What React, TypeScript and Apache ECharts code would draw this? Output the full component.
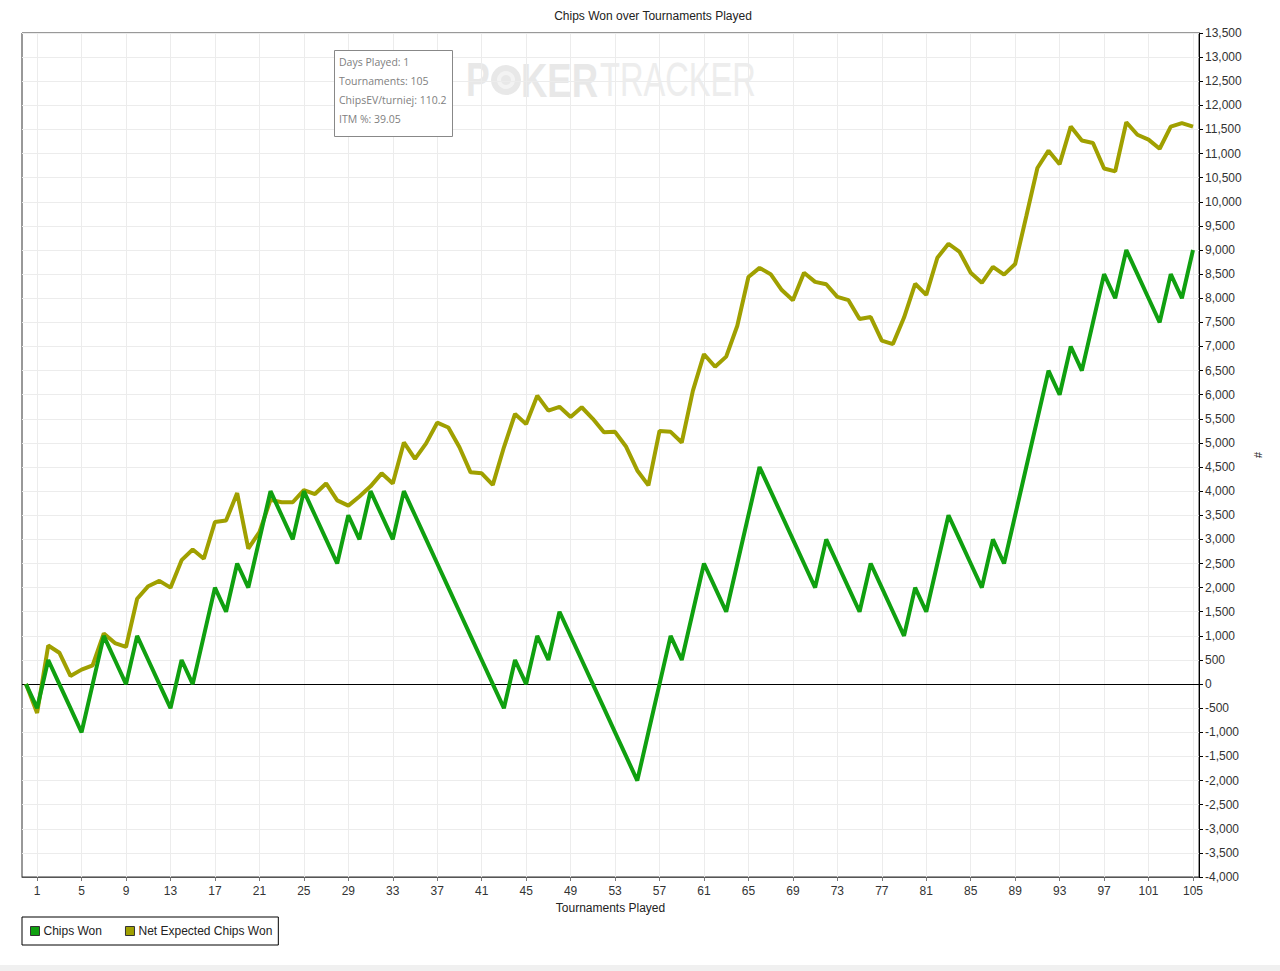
import React, { useEffect, useRef } from "react";
import * as echarts from "echarts";

// Tournament index 0..105
const TOURNAMENTS: number[] = Array.from({ length: 106 }, (_, i) => i);

const CHIPS_WON: number[] = [
  0, -500, 500, 0, -500, -1000, 0, 1000, 500, 0,
  1000, 500, 0, -500, 500, 0, 1000, 2000, 1500, 2500,
  2000, 3000, 4000, 3500, 3000, 4000, 3500, 3000, 2500, 3500,
  3000, 4000, 3500, 3000, 4000, 3500, 3000, 2500, 2000, 1500,
  1000, 500, 0, -500, 500, 0, 1000, 500, 1500, 1000,
  500, 0, -500, -1000, -1500, -2000, -1000, 0, 1000, 500,
  1500, 2500, 2000, 1500, 2500, 3500, 4500, 4000, 3500, 3000,
  2500, 2000, 3000, 2500, 2000, 1500, 2500, 2000, 1500, 1000,
  2000, 1500, 2500, 3500, 3000, 2500, 2000, 3000, 2500, 3500,
  4500, 5500, 6500, 6000, 7000, 6500, 7500, 8500, 8000, 9000,
  8500, 8000, 7500, 8500, 8000, 9000,
];

const NET_EXPECTED: number[] = [
  0, -600, 800, 650, 170, 300, 390, 1050, 850, 770,
  1770, 2030, 2140, 2000, 2570, 2790, 2600, 3360, 3390, 3960,
  2810, 3150, 3820, 3770, 3770, 4020, 3940, 4160, 3810, 3700,
  3890, 4100, 4370, 4160, 5010, 4670, 4990, 5420, 5320, 4910,
  4390, 4370, 4130, 4910, 5600, 5390, 5980, 5670, 5750, 5540,
  5740, 5500, 5220, 5230, 4920, 4430, 4120, 5250, 5230, 5010,
  6080, 6840, 6580, 6790, 7430, 8440, 8630, 8500, 8170, 7960,
  8530, 8340, 8290, 8030, 7960, 7570, 7610, 7120, 7050, 7600,
  8300, 8070, 8840, 9130, 8960, 8530, 8320, 8650, 8490, 8710,
  9700, 10700, 11060, 10780, 11560, 11270, 11220, 10690, 10630, 11650,
  11390, 11290, 11100, 11560, 11630, 11560,
];

const X_TICKS: number[] = [
  1, 5, 9, 13, 17, 21, 25, 29, 33, 37, 41, 45, 49, 53, 57, 61, 65, 69, 73, 77, 81, 85, 89, 93, 97, 101, 105,
];

const INFO_LINES: string[] = [
  "Days Played: 1",
  "Tournaments: 105",
  "ChipsEV/turniej: 110.2",
  "ITM %: 39.05",
];

const FONT = "'Liberation Sans', Arial, sans-serif";

export default function App() {
  const ref = useRef<HTMLDivElement>(null);

  useEffect(() => {
    document.body.style.margin = "0";
    if (!ref.current) return;
    const chart = echarts.init(ref.current, undefined, { renderer: "svg" });

    const fmt = (v: number) => v.toLocaleString("en-US");

    const option: any = {
      animation: false,
      backgroundColor: "#ffffff",
      title: {
        text: "Chips Won over Tournaments Played",
        left: 648,
        top: 5,
        textAlign: "center",
        textStyle: { fontFamily: FONT, fontSize: 12, fontWeight: "normal", color: "#222" },
      },
      legend: {
        left: 22,
        top: 917,
        orient: "horizontal",
        data: ["Chips Won", "Net Expected Chips Won"],
        icon: "rect",
        itemWidth: 9,
        itemHeight: 9,
        itemGap: 23,
        padding: [8, 6, 8, 8],
        borderColor: "#000",
        borderWidth: 1,
        borderRadius: 0,
        textStyle: { fontFamily: FONT, fontSize: 12, color: "#222", padding: [0, 0, 0, -1] },
        itemStyle: { borderColor: "#333", borderWidth: 1 },
      },
      grid: {
        left: 22,
        right: 81,
        top: 33,
        bottom: 94,
        show: true,
        borderColor: "#333",
        borderWidth: 1,
        containLabel: false,
      },
      xAxis: {
        type: "value",
        min: -0.36,
        max: 105.54,
        name: "Tournaments Played",
        nameLocation: "middle",
        nameGap: 24,
        nameTextStyle: { fontFamily: FONT, fontSize: 12, color: "#222", verticalAlign: "top" },
        axisLine: { show: true, onZero: false, lineStyle: { color: "#555" } },
        axisTick: { show: true, length: 4, customValues: X_TICKS, lineStyle: { color: "#777" } },
        axisLabel: {
          customValues: X_TICKS,
          fontFamily: FONT,
          fontSize: 12,
          color: "#333",
          margin: 8,
        },
        splitLine: { show: false },
      },
      yAxis: {
        type: "value",
        position: "right",
        min: -4000,
        max: 13500,
        interval: 500,
        name: "#",
        nameLocation: "middle",
        nameGap: 52,
        nameRotate: -90,
        nameTextStyle: { fontFamily: FONT, fontSize: 11, color: "#222" },
        axisLine: { show: true, onZero: false, lineStyle: { color: "#000" } },
        axisTick: { show: true, length: 4, lineStyle: { color: "#000" } },
        axisLabel: {
          formatter: (v: number) => fmt(v),
          fontFamily: FONT,
          fontSize: 12,
          color: "#333",
          margin: 6,
        },
        splitLine: { show: true, lineStyle: { color: "#ececec", width: 1 } },
      },
      graphic: [
        {
          type: "group",
          silent: true,
          children: [
            {
              type: "text",
              z: 0,
              x: 466,
              y: 80,
              scaleX: 0.74,
              style: {
                text: "P",
                fontFamily: FONT,
                fontWeight: "bold",
                fontSize: 48,
                fill: "#e8e8e8",
                verticalAlign: "middle",
              },
            },
            { type: "circle", z: 0, shape: { cx: 506, cy: 80, r: 15 }, style: { fill: "#e8e8e8" } },
            { type: "circle", z: 0, shape: { cx: 506, cy: 80, r: 9 }, style: { fill: "#f3f3f3" } },
            { type: "circle", z: 0, shape: { cx: 506, cy: 80, r: 5 }, style: { fill: "#e8e8e8" } },
            {
              type: "text",
              z: 0,
              x: 521,
              y: 80,
              scaleX: 0.76,
              style: {
                text: "KER",
                fontFamily: FONT,
                fontWeight: "bold",
                fontSize: 48,
                fill: "#e8e8e8",
                verticalAlign: "middle",
              },
            },
            {
              type: "text",
              z: 0,
              x: 600,
              y: 80,
              scaleX: 0.68,
              style: {
                text: "TRACKER",
                fontFamily: FONT,
                fontWeight: "normal",
                fontSize: 48,
                fill: "#ededed",
                verticalAlign: "middle",
              },
            },
          ],
        },
        {
          type: "rect",
          silent: true,
          z: 100,
          shape: { x: 334.5, y: 50.5, width: 118, height: 86 },
          style: { fill: "#ffffff", stroke: "#888", lineWidth: 1 },
        },
        ...INFO_LINES.map((t, i) => ({
          type: "text",
          silent: true,
          z: 101,
          x: 339,
          y: 62 + i * 19,
          style: {
            text: t,
            fontFamily: "'Open Sans', 'Noto Sans', sans-serif",
            fontSize: 10.5,
            fill: "#808080",
            verticalAlign: "middle",
          },
        })),
        {
          type: "rect",
          silent: true,
          shape: { x: 0, y: 965, width: 1280, height: 6 },
          style: { fill: "#f0f0f0" },
        },
      ],
      series: [
        {
          name: "grid-helper",
          type: "line",
          data: [],
          z: 1,
          silent: true,
          markLine: {
            z: 1,
            silent: true,
            symbol: ["none", "none"],
            label: { show: false },
            animation: false,
            data: [
              ...X_TICKS.map((v) => ({
                xAxis: v,
                lineStyle: { color: "#ececec", width: 1, type: "solid" },
              })),
              { yAxis: 0, lineStyle: { color: "#000", width: 1, type: "solid" } },
            ],
          },
        },
        {
          name: "Net Expected Chips Won",
          type: "line",
          data: TOURNAMENTS.map((t, i) => [t, NET_EXPECTED[i]]),
          showSymbol: false,
          symbol: "none",
          z: 2,
          lineStyle: { color: "#a0a000", width: 4 },
          itemStyle: { color: "#a0a000" },
        },
        {
          name: "Chips Won",
          type: "line",
          data: TOURNAMENTS.map((t, i) => [t, CHIPS_WON[i]]),
          showSymbol: false,
          symbol: "none",
          z: 3,
          lineStyle: { color: "#10a010", width: 4 },
          itemStyle: { color: "#10a010" },
        },
      ],
    };

    chart.setOption(option);
    return () => {
      chart.dispose();
    };
  }, []);

  return <div ref={ref} style={{ width: 1280, height: 971 }} />;
}
